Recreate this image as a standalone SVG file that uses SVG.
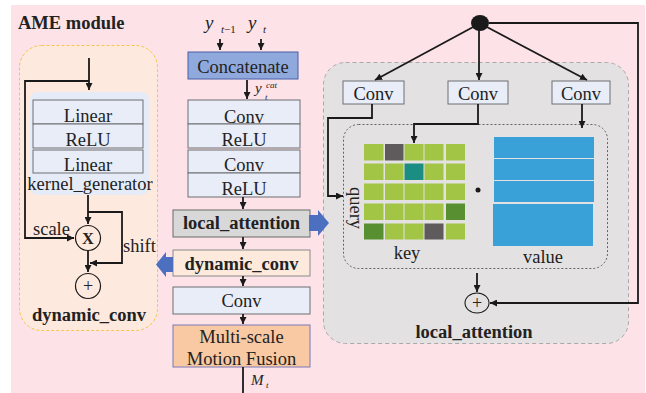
<svg xmlns="http://www.w3.org/2000/svg" width="646" height="393" viewBox="0 0 646 393" font-family="'Liberation Serif', 'Times New Roman', serif">
<defs>
<marker id="ah" viewBox="0 0 10 10" refX="10" refY="5" markerWidth="7" markerHeight="7" markerUnits="userSpaceOnUse" orient="auto">
<path d="M0,0 L10,5 L0,10 z" fill="#1a1a1a"/>
</marker>
<style>
text{font-family:"Liberation Serif","Times New Roman",serif;fill:#222;font-size:18.5px}
.b{font-weight:bold}
.i{font-style:italic}
.m{text-anchor:middle}
.box{fill:#e8edf8;stroke:#6f6f73;stroke-width:1}
.ln{fill:none;stroke:#1a1a1a;stroke-width:1.8}
.g{fill:#a2c545}
.bar{fill:#3aa0d8}
</style>
</defs>
<rect x="11" y="5" width="634" height="388" fill="#fde3e8"/>

<text class="b" x="18" y="29">AME module</text>

<g id="dynamic_conv_panel">
<rect x="19.5" y="45.5" width="138" height="285" rx="22" fill="#fde9dd" stroke="#f5c64a" stroke-width="1" stroke-dasharray="3,2"/>
<rect x="30" y="92" width="119" height="103" rx="8" fill="#e6ecf7"/>
<g id="kg_linear1"><rect class="box" x="33" y="100" width="110" height="24"/><text class="m" x="88" y="122">Linear</text></g>
<g id="kg_relu"><rect class="box" x="33" y="124" width="110" height="24"/><text class="m" x="88" y="146">ReLU</text></g>
<g id="kg_linear2"><rect class="box" x="33" y="150" width="110" height="23"/><text class="m" x="88" y="171">Linear</text></g>
<text class="m" x="90" y="190">kernel_generator</text>
<g id="mul"><circle cx="88" cy="238" r="12.5" fill="none" stroke="#1a1a1a" stroke-width="1.2"/><text class="b m" x="88" y="244" style="font-size:16.5px">X</text></g>
<g id="add_left"><circle cx="88" cy="286" r="12.5" fill="none" stroke="#1a1a1a" stroke-width="1.2"/><text class="m" x="88" y="292" style="font-size:18px">+</text></g>
<text x="33" y="235">scale</text>
<text x="123" y="252">shift</text>
<text class="b m" x="89" y="321">dynamic_conv</text>
</g>

<g id="inputs">
<text class="i" x="205" y="29" style="font-size:19px">y</text>
<text x="221" y="33" style="font-size:11px"><tspan class="i" style="font-size:11px">t</tspan>−1</text>
<text class="i" x="248" y="29" style="font-size:19px">y</text>
<text class="i" x="263" y="33" style="font-size:11px">t</text>
</g>
<g id="concatenate"><rect x="188" y="52" width="110" height="27" fill="#8fa9dc" stroke="#4a5fa8" stroke-width="1"/><text class="m" x="243" y="73">Concatenate</text></g>
<g id="ycat">
<text class="i" x="255" y="93" style="font-size:15px">y</text>
<text class="i" x="266" y="88" style="font-size:9px">cat</text>
<text class="i" x="265" y="100" style="font-size:9px">t</text>
</g>
<g id="conv1"><rect class="box" x="188" y="100" width="112" height="24"/><text class="m" x="244" y="122.5">Conv</text></g>
<g id="relu1"><rect class="box" x="188" y="124" width="112" height="24"/><text class="m" x="244" y="146">ReLU</text></g>
<g id="conv2"><rect class="box" x="188" y="150" width="112" height="23"/><text class="m" x="244" y="170.5">Conv</text></g>
<g id="relu2"><rect class="box" x="188" y="173" width="112" height="24"/><text class="m" x="244" y="194.5">ReLU</text></g>
<g id="local_attention_box"><rect x="173" y="210" width="137" height="27" fill="#d9d8d9" stroke="#6a6a6a" stroke-width="1"/><text class="b m" x="241.5" y="229">local_attention</text></g>
<g id="dynamic_conv_box"><rect x="173" y="250" width="137" height="26" fill="#fdeadd" stroke="#8a8a8a" stroke-width="1"/><text class="b m" x="241.5" y="270">dynamic_conv</text></g>
<g id="conv3"><rect class="box" x="173" y="287" width="137" height="27"/><text class="m" x="241.5" y="307">Conv</text></g>
<g id="mmf"><rect x="173" y="325" width="137" height="42" fill="#f8c9a2" stroke="#7b78b8" stroke-width="1"/><text class="m" x="241.5" y="342.5">Multi-scale</text><text class="m" x="241.5" y="365">Motion Fusion</text></g>
<g id="mt"><text class="i" x="251" y="385" style="font-size:15px">M</text><text class="i" x="266" y="388" style="font-size:9px">t</text></g>

<g id="local_attention_panel">
<rect x="323.5" y="62.5" width="305" height="281" rx="22" fill="#e3e1e2" stroke="#a9a9a9" stroke-width="1" stroke-dasharray="4,3"/>
<rect x="343.5" y="124.5" width="264" height="144" rx="15" fill="none" stroke="#555" stroke-width="0.9" stroke-dasharray="2,2"/>
<text class="b m" x="474" y="338">local_attention</text>
</g>
<g id="dot"><ellipse cx="480" cy="23" rx="9" ry="8" fill="#1a1a1a"/></g>
<g id="conv_q"><rect class="box" x="343" y="81" width="61" height="23"/><text class="m" x="373.5" y="100">Conv</text></g>
<g id="conv_k"><rect class="box" x="448" y="81" width="60" height="23"/><text class="m" x="478" y="100">Conv</text></g>
<g id="conv_v"><rect class="box" x="552" y="81" width="58" height="23"/><text class="m" x="581" y="100">Conv</text></g>

<g id="key_grid">
<rect class="g" x="364" y="144" width="19.5" height="16.5"/>
<rect x="385" y="144" width="18.5" height="16.5" fill="#5f5a5b"/>
<rect class="g" x="404.5" y="144" width="19" height="16.5"/>
<rect class="g" x="424.5" y="144" width="19" height="16.5"/>
<rect class="g" x="446" y="144" width="19" height="16.5"/>
<rect class="g" x="364" y="163.5" width="19.5" height="16.5"/>
<rect class="g" x="385" y="163.5" width="18.5" height="16.5"/>
<rect x="404.5" y="163.5" width="19" height="16.5" fill="#1c8d82"/>
<rect class="g" x="424.5" y="163.5" width="19" height="16.5"/>
<rect class="g" x="446" y="163.5" width="19" height="16.5"/>
<rect class="g" x="364" y="183.5" width="19.5" height="16.5"/>
<rect class="g" x="385" y="183.5" width="18.5" height="16.5"/>
<rect class="g" x="404.5" y="183.5" width="19" height="16.5"/>
<rect class="g" x="424.5" y="183.5" width="19" height="16.5"/>
<rect class="g" x="446" y="183.5" width="19" height="16.5"/>
<rect class="g" x="364" y="203.5" width="19.5" height="16.5"/>
<rect class="g" x="385" y="203.5" width="18.5" height="16.5"/>
<rect class="g" x="404.5" y="203.5" width="19" height="16.5"/>
<rect class="g" x="424.5" y="203.5" width="19" height="16.5"/>
<rect x="446" y="203.5" width="19" height="16.5" fill="#588f31"/>
<rect x="364" y="223.5" width="19.5" height="16" fill="#588f31"/>
<rect class="g" x="385" y="223.5" width="18.5" height="16"/>
<rect class="g" x="404.5" y="223.5" width="19" height="16"/>
<rect x="424.5" y="223.5" width="19" height="16" fill="#5f5a5b"/>
<rect class="g" x="446" y="223.5" width="19" height="16"/>
</g>
<text x="350" y="187" transform="rotate(90 350 187)">query</text>
<text class="m" x="407" y="259">key</text>
<circle cx="478" cy="190" r="2.5" fill="#1a1a1a"/>
<g id="value_bars">
<rect class="bar" x="494" y="137" width="100" height="21"/>
<rect class="bar" x="494" y="159" width="100" height="21"/>
<rect class="bar" x="494" y="181" width="100" height="21"/>
<rect class="bar" x="493" y="204" width="100" height="42"/>
</g>
<text class="m" x="543" y="263">value</text>
<g id="add_right"><ellipse cx="477" cy="303" rx="12" ry="10" fill="none" stroke="#1a1a1a" stroke-width="1.1"/><text class="m" x="477" y="309" style="font-size:18px">+</text></g>

<g id="connectors">
<path class="ln" d="M220,39 V50" marker-end="url(#ah)"/>
<path class="ln" d="M261,39 V50" marker-end="url(#ah)"/>
<path class="ln" d="M247,80 V99" marker-end="url(#ah)"/>
<path class="ln" d="M243,197 V209" marker-end="url(#ah)"/>
<path class="ln" d="M243,237 V249" marker-end="url(#ah)"/>
<path class="ln" d="M243,276 V286" marker-end="url(#ah)"/>
<path class="ln" d="M243,314 V324" marker-end="url(#ah)"/>
<path class="ln" d="M243,367 V393"/>
<path d="M309,215 H318 V210 L329,223 L318,236 V231 H309 Z" fill="#4d6fbf"/>
<path d="M173,257 H166 V252 L156,264.5 L166,277 V272 H173 Z" fill="#4d6fbf"/>
<path class="ln" d="M89,58 V90" marker-end="url(#ah)"/>
<path class="ln" d="M89,81 H25 V238 H74" marker-end="url(#ah)"/>
<path class="ln" d="M88,195 V224" marker-end="url(#ah)"/>
<path class="ln" d="M88,212 H122 V263 H90" marker-end="url(#ah)"/>
<path class="ln" d="M88,251 V272" marker-end="url(#ah)"/>
<path class="ln" d="M475,26 L375,80" marker-end="url(#ah)"/>
<path class="ln" d="M479,30 V80" marker-end="url(#ah)"/>
<path class="ln" d="M485,26 L587,80" marker-end="url(#ah)"/>
<path class="ln" d="M489,23 H638 V303 H490" marker-end="url(#ah)"/>
<path class="ln" d="M372,104 V118 H328 V196 H343" marker-end="url(#ah)"/>
<path class="ln" d="M478,104 V124 H414 V143" marker-end="url(#ah)"/>
<path class="ln" d="M582,104 V128" marker-end="url(#ah)"/>
<path class="ln" d="M477,273 V292" marker-end="url(#ah)"/>
</g>
</svg>
